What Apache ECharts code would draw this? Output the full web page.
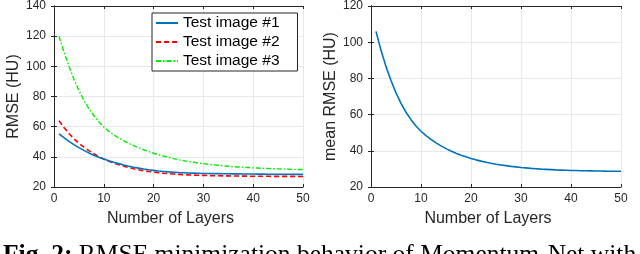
<!DOCTYPE html>
<html><head><meta charset="utf-8">
<script src="https://cdn.jsdelivr.net/npm/echarts@6/dist/echarts.min.js"></script>
<style>html,body{margin:0;padding:0;background:#fff}#c{width:640px;height:254px}</style>
</head><body><div id="c"></div>
<script>
const layers = [1,2,3,4,5,6,7,8,9,10,11,12,13,14,15,16,17,18,19,20,21,22,23,24,25,26,27,28,29,30,31,32,33,34,35,36,37,38,39,40,41,42,43,44,45,46,47,48,49,50];
const seriesNames = ['Test image #1','Test image #2','Test image #3'];
const test1 = [55.3,52.7,50.3,48.1,46.1,44.3,42.6,41.1,39.7,38.5,37.4,36.4,35.5,34.6,33.8,33.1,32.5,31.9,31.4,31.0,30.6,30.3,30.0,29.8,29.6,29.45,29.3,29.2,29.1,29.0,28.95,28.9,28.85,28.8,28.75,28.7,28.67,28.64,28.61,28.58,28.55,28.52,28.5,28.48,28.46,28.44,28.42,28.41,28.4,28.4];
const test2 = [64.0,59.5,55.5,52.0,49.0,46.4,44.1,42.0,40.1,38.5,37.1,35.9,34.8,33.8,32.9,32.1,31.4,30.8,30.3,29.9,29.5,29.15,28.85,28.6,28.4,28.2,28.05,27.9,27.8,27.7,27.6,27.5,27.45,27.4,27.35,27.3,27.25,27.2,27.18,27.15,27.12,27.1,27.08,27.06,27.05,27.04,27.03,27.02,27.01,27.0];
const test3 = [120.0,109.5,100.0,91.5,84.0,77.5,72.0,67.3,63.3,59.8,57.0,54.6,52.5,50.6,48.9,47.4,46.0,44.7,43.5,42.4,41.4,40.5,39.6,38.8,38.1,37.5,36.9,36.4,35.9,35.5,35.1,34.7,34.4,34.1,33.8,33.5,33.3,33.1,32.9,32.7,32.55,32.4,32.25,32.1,32.0,31.9,31.8,31.7,31.65,31.6];
const meanRmse = [106.0,95.5,86.5,78.8,72.0,66.2,61.3,57.2,53.7,50.8,48.4,46.3,44.4,42.7,41.2,39.9,38.7,37.6,36.7,35.8,35.0,34.3,33.7,33.1,32.6,32.2,31.8,31.4,31.1,30.8,30.55,30.3,30.1,29.9,29.75,29.6,29.45,29.35,29.25,29.15,29.1,29.0,28.95,28.9,28.85,28.8,28.75,28.72,28.7,28.68];
const xTicks = {min:0, max:50, interval:10};
const yLeft = {min:20, max:140, interval:20};
const yRight = {min:20, max:120, interval:20};
const xName = 'Number of Layers';
const yNameLeft = 'RMSE (HU)';
const yNameRight = 'mean RMSE (HU)';
const captionBold = 'Fig. 2:';
const captionText = ' RMSE minimization behavior of Momentum-Net with';

const AX = '#262626';
const FONT = '"Liberation Sans", Arial, sans-serif';
const SERIF = '"Liberation Serif", "Times New Roman", serif';
const pair = arr => layers.map((x,i)=>[x, arr[i]]);

function xAxes(gi){
  return [
    {type:'value', gridIndex:gi, position:'bottom', min:xTicks.min, max:xTicks.max, interval:xTicks.interval,
     name:xName, nameLocation:'middle', nameGap:24,
     nameTextStyle:{fontFamily:FONT, fontSize:16, color:AX, padding:[0,16,0,0]},
     axisLine:{show:true, lineStyle:{color:AX, width:1}},
     axisTick:{show:true, inside:true, length:3, lineStyle:{color:AX}},
     axisLabel:{fontFamily:FONT, fontSize:12, color:AX, margin:6},
     splitLine:{show:true, lineStyle:{color:'#e8e8e8', width:1}}},
    {type:'value', gridIndex:gi, position:'top', min:xTicks.min, max:xTicks.max, interval:xTicks.interval,
     axisLine:{show:true, lineStyle:{color:AX, width:1}},
     axisTick:{show:true, inside:true, length:3, lineStyle:{color:AX}},
     axisLabel:{show:false}, splitLine:{show:false}}
  ];
}
function yAxes(gi, r, nm, gap){
  return [
    {type:'value', gridIndex:gi, position:'left', min:r.min, max:r.max, interval:r.interval,
     name:nm, nameLocation:'middle', nameGap:gap, nameRotate:90,
     nameTextStyle:{fontFamily:FONT, fontSize:16, color:AX},
     axisLine:{show:true, lineStyle:{color:AX, width:1}},
     axisTick:{show:true, inside:true, length:3, lineStyle:{color:AX}},
     axisLabel:{fontFamily:FONT, fontSize:12, color:AX, margin:8},
     splitLine:{show:true, lineStyle:{color:'#e8e8e8', width:1}}},
    {type:'value', gridIndex:gi, position:'right', min:r.min, max:r.max, interval:r.interval,
     axisLine:{show:true, lineStyle:{color:AX, width:1}},
     axisTick:{show:true, inside:true, length:3, lineStyle:{color:AX}},
     axisLabel:{show:false}, splitLine:{show:false}}
  ];
}

const chart = echarts.init(document.getElementById('c'), null, {renderer:'canvas'});
chart.setOption({
  animation:false,
  backgroundColor:'#fff',
  grid:[
    {left:54, right:337, top:6, bottom:67},
    {left:371, right:19, top:6, bottom:67}
  ],
  xAxis:[...xAxes(0), ...xAxes(1)],
  yAxis:[...yAxes(0, yLeft, yNameLeft, 30), ...yAxes(1, yRight, yNameRight, 26)],
  legend:{
    data:seriesNames, orient:'vertical', left:152, top:13,
    padding:[1,18,1,3], itemGap:1, itemWidth:22, itemHeight:14,
    backgroundColor:'#fff', borderColor:AX, borderWidth:1,
    itemStyle:{opacity:0},
    textStyle:{fontFamily:FONT, fontSize:15.5, color:'#000', lineHeight:18}
  },
  series:[
    {name:seriesNames[0], type:'line', xAxisIndex:0, yAxisIndex:0, data:pair(test1), symbol:'none', z:4,
     lineStyle:{color:'#0072BD', width:1.6}, itemStyle:{color:'#0072BD'}},
    {name:seriesNames[1], type:'line', xAxisIndex:0, yAxisIndex:0, data:pair(test2), symbol:'none', z:3,
     lineStyle:{color:'#FF0000', width:1.6, type:[5,3]}, itemStyle:{color:'#FF0000'}},
    {name:seriesNames[2], type:'line', xAxisIndex:0, yAxisIndex:0, data:pair(test3), symbol:'none', z:3,
     lineStyle:{color:'#00EE00', width:1.4, type:[5,2,1.5,2]}, itemStyle:{color:'#00EE00'}},
    {name:'mean', type:'line', xAxisIndex:2, yAxisIndex:2, data:pair(meanRmse), symbol:'none',
     lineStyle:{color:'#0072BD', width:1.6}, itemStyle:{color:'#0072BD'}}
  ],
  graphic:[
    {type:'text', left:3, top:242, z:10,
     style:{text:'{b|'+captionBold+'}{r|'+captionText+'}', fill:'#000',
       rich:{b:{fontFamily:SERIF, fontSize:25.5, fontWeight:'bold', fill:'#000'},
             r:{fontFamily:SERIF, fontSize:25.5, fill:'#000'}}}}
  ]
});
</script></body></html>
